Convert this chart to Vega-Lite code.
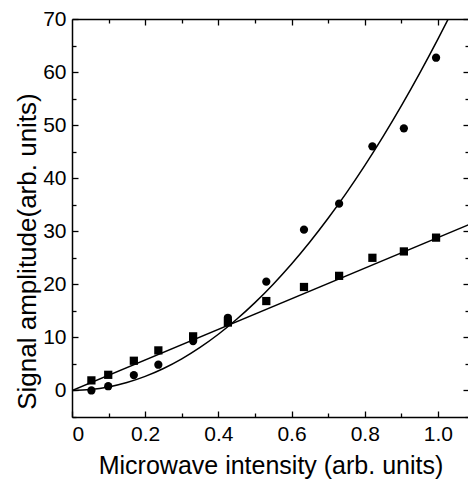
{
  "$schema": "https://vega.github.io/schema/vega-lite/v6.json",
  "autosize": "none",
  "width": 397,
  "height": 398,
  "padding": {"left": 72, "top": 19, "right": 0, "bottom": 65},
  "background": "white",
  "config": {
    "view": {"stroke": null},
    "font": "Liberation Sans",
    "axis": {
      "domainColor": "black",
      "domainWidth": 1.5,
      "tickColor": "black",
      "tickWidth": 1.3,
      "grid": false,
      "labelFont": "Liberation Sans",
      "labelFontSize": 21,
      "labelColor": "black",
      "titleFont": "Liberation Sans",
      "titleColor": "black",
      "titleFontWeight": "normal"
    }
  },
  "datasets": {
    "points": [
      {"x": 0.053, "y": 0.0, "series": "circle"},
      {"x": 0.099, "y": 0.8, "series": "circle"},
      {"x": 0.169, "y": 2.9, "series": "circle"},
      {"x": 0.236, "y": 4.85, "series": "circle"},
      {"x": 0.331, "y": 9.3, "series": "circle"},
      {"x": 0.426, "y": 13.7, "series": "circle"},
      {"x": 0.531, "y": 20.5, "series": "circle"},
      {"x": 0.634, "y": 30.3, "series": "circle"},
      {"x": 0.730, "y": 35.2, "series": "circle"},
      {"x": 0.821, "y": 46.0, "series": "circle"},
      {"x": 0.907, "y": 49.4, "series": "circle"},
      {"x": 0.995, "y": 62.7, "series": "circle"},
      {"x": 0.053, "y": 1.9, "series": "square"},
      {"x": 0.099, "y": 2.95, "series": "square"},
      {"x": 0.169, "y": 5.6, "series": "square"},
      {"x": 0.236, "y": 7.55, "series": "square"},
      {"x": 0.331, "y": 10.2, "series": "square"},
      {"x": 0.426, "y": 12.8, "series": "square"},
      {"x": 0.531, "y": 16.85, "series": "square"},
      {"x": 0.634, "y": 19.5, "series": "square"},
      {"x": 0.730, "y": 21.6, "series": "square"},
      {"x": 0.821, "y": 25.0, "series": "square"},
      {"x": 0.907, "y": 26.2, "series": "square"},
      {"x": 0.995, "y": 28.8, "series": "square"}
    ],
    "fits": [
      {"x": 0.0, "y": 0.0, "fit": "quadratic"},
      {"x": 0.05, "y": 0.17, "fit": "quadratic"},
      {"x": 0.1, "y": 0.66, "fit": "quadratic"},
      {"x": 0.15, "y": 1.49, "fit": "quadratic"},
      {"x": 0.2, "y": 2.65, "fit": "quadratic"},
      {"x": 0.25, "y": 4.14, "fit": "quadratic"},
      {"x": 0.3, "y": 5.96, "fit": "quadratic"},
      {"x": 0.35, "y": 8.11, "fit": "quadratic"},
      {"x": 0.4, "y": 10.59, "fit": "quadratic"},
      {"x": 0.45, "y": 13.41, "fit": "quadratic"},
      {"x": 0.5, "y": 16.55, "fit": "quadratic"},
      {"x": 0.55, "y": 20.03, "fit": "quadratic"},
      {"x": 0.6, "y": 23.83, "fit": "quadratic"},
      {"x": 0.65, "y": 27.97, "fit": "quadratic"},
      {"x": 0.7, "y": 32.44, "fit": "quadratic"},
      {"x": 0.75, "y": 37.24, "fit": "quadratic"},
      {"x": 0.8, "y": 42.37, "fit": "quadratic"},
      {"x": 0.85, "y": 47.83, "fit": "quadratic"},
      {"x": 0.9, "y": 53.62, "fit": "quadratic"},
      {"x": 0.95, "y": 59.75, "fit": "quadratic"},
      {"x": 1.0, "y": 66.2, "fit": "quadratic"},
      {"x": 1.028, "y": 69.96, "fit": "quadratic"},
      {"x": 0.0, "y": 0.0, "fit": "linear"},
      {"x": 1.085, "y": 31.25, "fit": "linear"}
    ]
  },
  "layer": [
    {
      "data": {"name": "fits"},
      "mark": {"type": "line", "color": "black", "strokeWidth": 1.5, "interpolate": "monotone", "clip": true},
      "encoding": {
        "x": {
          "field": "x", "type": "quantitative",
          "scale": {"domain": [0, 1.085], "nice": false, "zero": false},
          "axis": {
            "orient": "top", "labels": false, "title": null,
            "values": [0.1, 0.2, 0.3, 0.4, 0.5, 0.6, 0.7, 0.8, 0.9, 1.0],
            "tickSize": {"condition": {"test": "round(datum.value*10) % 2 == 0", "value": -6}, "value": -4}
          }
        },
        "y": {
          "field": "y", "type": "quantitative",
          "scale": {"domain": [-5, 70], "nice": false, "zero": false},
          "axis": {
            "orient": "right", "labels": false, "title": null,
            "values": [-5, 0, 5, 10, 15, 20, 25, 30, 35, 40, 45, 50, 55, 60, 65, 70],
            "tickSize": {"condition": {"test": "datum.value % 10 == 0", "value": -6}, "value": -4}
          }
        },
        "detail": {"field": "fit", "type": "nominal"}
      }
    },
    {
      "data": {"name": "points"},
      "mark": {"type": "point", "filled": true, "color": "black", "opacity": 1, "size": 68},
      "encoding": {
        "x": {
          "field": "x", "type": "quantitative",
          "axis": {
            "orient": "bottom",
            "title": "Microwave intensity (arb. units)",
            "titleFontSize": 25,
            "titlePadding": 9,
            "values": [0, 0.1, 0.2, 0.3, 0.4, 0.5, 0.6, 0.7, 0.8, 0.9, 1.0],
            "labelExpr": "datum.value == 0 ? '0' : (round(datum.value*10) % 2 == 0 ? format(datum.value, '.1f') : '')",
            "labelPadding": 12,
            "tickSize": {"condition": {"test": "round(datum.value*10) % 2 == 0", "value": -6}, "value": -4}
          }
        },
        "y": {
          "field": "y", "type": "quantitative",
          "axis": {
            "orient": "left",
            "title": "Signal amplitude(arb. units)",
            "titleFontSize": 26,
            "titleX": -45,
            "titleY": 232,
            "titleAlign": "center",
            "titleBaseline": "middle",
            "titleAngle": -90,
            "values": [-5, 0, 5, 10, 15, 20, 25, 30, 35, 40, 45, 50, 55, 60, 65, 70],
            "labelExpr": "datum.value % 10 == 0 ? datum.label : ''",
            "labelPadding": 12,
            "tickSize": {"condition": {"test": "datum.value % 10 == 0", "value": -6}, "value": -4}
          }
        },
        "shape": {
          "field": "series", "type": "nominal",
          "scale": {"domain": ["circle", "square"], "range": ["circle", "square"]},
          "legend": null
        }
      }
    }
  ],
  "resolve": {"axis": {"x": "independent", "y": "independent"}}
}
